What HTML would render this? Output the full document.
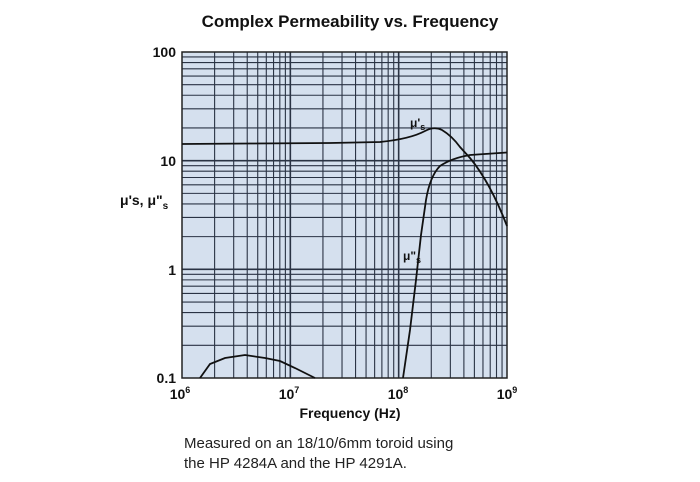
<!DOCTYPE html>
<html><head><meta charset="utf-8"><style>
body{margin:0;background:#fff;width:700px;height:477px;overflow:hidden;font-family:"Liberation Sans",Arial,sans-serif}
</style></head><body>
<svg id="s" width="700" height="477" xmlns="http://www.w3.org/2000/svg" font-family="Liberation Sans, Arial, sans-serif">
<text x="350" y="27" text-anchor="middle" font-size="17" font-weight="bold" fill="#111">Complex Permeability vs. Frequency</text>
<rect x="182" y="52" width="325" height="326" fill="#d5e0ee"/>
<g id="grid" stroke="#2a3344" stroke-width="1.1"></g>
<rect x="182" y="52" width="325" height="326" fill="none" stroke="#222" stroke-width="1.5"/>
<g font-size="14" font-weight="bold" fill="#111" text-anchor="end">
<text x="176" y="57">100</text><text x="176" y="166">10</text><text x="176" y="275">1</text><text x="176" y="383">0.1</text>
</g>
<g font-size="14" font-weight="bold" fill="#111" text-anchor="middle">
<text x="180" y="399">10<tspan font-size="9" dy="-6">6</tspan></text>
<text x="289" y="399">10<tspan font-size="9" dy="-6">7</tspan></text>
<text x="398" y="399">10<tspan font-size="9" dy="-6">8</tspan></text>
<text x="507" y="399">10<tspan font-size="9" dy="-6">9</tspan></text>
<text x="350" y="418" font-size="14">Frequency (Hz)</text>
</g>
<text x="120" y="205" font-size="14" font-weight="bold" fill="#111">μ's, μ"<tspan font-size="10" dy="4">s</tspan></text>
<text x="410" y="127" font-size="12" font-weight="bold" fill="#111">μ'<tspan font-size="9" dy="3">s</tspan></text>
<text x="403" y="260" font-size="12" font-weight="bold" fill="#111">μ"<tspan font-size="9" dy="3">s</tspan></text>
<g fill="none" stroke="#111" stroke-width="1.8">
<path d="M182,144 L250,143.5 L330,143 L380,142 Q410,139 425,131 Q434,126 442,130 Q452,136 460,147 L470,158 Q490,182 507,226"/>
<path d="M403,378 L410,330 L416,280 L421,235 L426,200 Q430,176 440,166 Q452,158 470,155 L507,152.5"/>
<path d="M200,378 L210,364 L225,358 L245,355 L265,358 L280,361 L295,368 L315,378"/>
</g>
<g font-size="15" fill="#222">
<text x="184" y="448">Measured on an 18/10/6mm toroid using</text>
<text x="184" y="468">the HP 4284A and the HP 4291A.</text>
</g>
</svg>
<script>
var g=document.getElementById('grid'),L=182,T=52,W=325,H=326,s='';
for(var d=0;d<3;d++)for(var k=2;k<=9;k++){var f=(d+Math.log10(k))/3;
var x=L+f*W,y=T+H-f*H;
s+='<line x1="'+x+'" y1="'+T+'" x2="'+x+'" y2="'+(T+H)+'"/>';
s+='<line x1="'+L+'" y1="'+y+'" x2="'+(L+W)+'" y2="'+y+'"/>';}
for(var d=1;d<3;d++){var x=L+d*W/3,y=T+d*H/3;
s+='<line x1="'+x+'" y1="'+T+'" x2="'+x+'" y2="'+(T+H)+'" stroke-width="1.6"/>';
s+='<line x1="'+L+'" y1="'+y+'" x2="'+(L+W)+'" y2="'+y+'" stroke-width="1.6"/>';}
g.innerHTML=s;
</script>
</body></html>
